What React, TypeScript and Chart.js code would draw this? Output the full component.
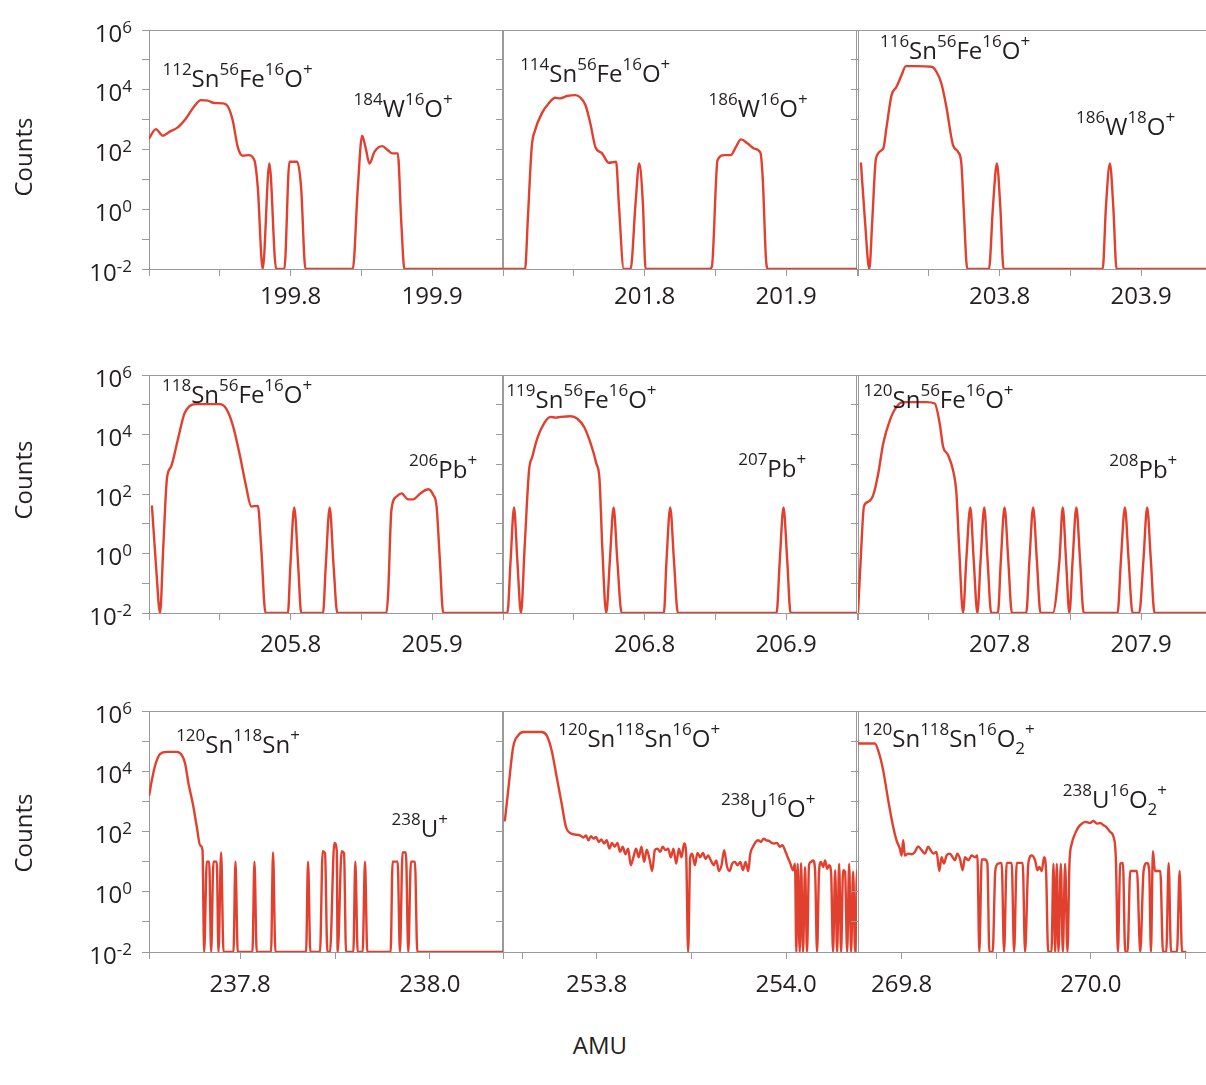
import React, { useEffect, useRef } from 'react';
import { Chart, registerables } from 'chart.js';

Chart.register(...registerables);

const FONT = "'Open Sans', 'DejaVu Sans', sans-serif";
const RED = '#e2402f';
const GREY = '#9a9a9a';
const INK = '#231f20';

// ---------- data: row 1 ----------
const amu11 = [199.7000, 199.7049, 199.7097, 199.7144, 199.7203, 199.7261, 199.7320, 199.7367, 199.7415, 199.7462, 199.7521, 199.7556, 199.7591, 199.7627, 199.7662, 199.7704, 199.7744, 199.7768, 199.7803, 199.7850, 199.7898, 199.7956, 199.7992, 199.8046, 199.8074, 199.8105, 199.8439, 199.8475, 199.8505, 199.8529, 199.8557, 199.8592, 199.8647, 199.8687, 199.8717, 199.8757, 199.8781, 199.8804, 199.9500];
const counts11 = [234, 480, 290, 390, 550, 1100, 2800, 4500, 4300, 3600, 3500, 2800, 950, 120, 62, 65, 44, 5.6, 0.01, 34, 0.01, 0.01, 39, 39, 5.6, 0.01, 0.01, 5.6, 290, 120, 34, 83, 130, 95, 74, 74, 0.43, 0.01, 0.01];

const amu12 = [201.7000, 201.7156, 201.7175, 201.7203, 201.7227, 201.7274, 201.7322, 201.7369, 201.7404, 201.7452, 201.7511, 201.7546, 201.7582, 201.7617, 201.7652, 201.7700, 201.7747, 201.7799, 201.7818, 201.7853, 201.7901, 201.7936, 201.7962, 201.7988, 201.8007, 201.8456, 201.8475, 201.8515, 201.8563, 201.8610, 201.8645, 201.8681, 201.8728, 201.8775, 201.8818, 201.8835, 201.8858, 201.8872, 201.9500];
const counts12 = [0.01, 0.01, 0.43, 123, 447, 1620, 3470, 5370, 5130, 6170, 6600, 5500, 3090, 741, 123, 74, 36, 39, 1.55, 0.01, 0.01, 1.55, 34, 1.55, 0.01, 0.01, 0.012, 44, 65, 65, 123, 219, 158, 107, 78, 9.3, 0.019, 0.01, 0.01];

const amu13 = [203.7021, 203.7049, 203.7080, 203.7101, 203.7127, 203.7178, 203.7202, 203.7237, 203.7272, 203.7308, 203.7338, 203.7413, 203.7519, 203.7554, 203.7589, 203.7624, 203.7671, 203.7707, 203.7730, 203.7746, 203.7772, 203.7925, 203.7953, 203.7981, 203.8005, 203.8028, 203.8728, 203.8751, 203.8779, 203.8803, 203.8826, 203.9500];
const counts13 = [34, 0.43, 0.01, 0.43, 50, 107, 575, 6600, 12600, 31000, 62000, 62000, 59000, 40000, 16200, 2700, 141, 83, 34, 1.2, 0.01, 0.01, 1.2, 34, 1.2, 0.01, 0.01, 1.2, 34, 1.2, 0.01, 0.01];

// ---------- data: row 2 ----------
const amu21 = [205.7021, 205.7050, 205.7078, 205.7101, 205.7127, 205.7156, 205.7203, 205.7250, 205.7285, 205.7333, 205.7498, 205.7545, 205.7592, 205.7639, 205.7686, 205.7722, 205.7769, 205.7792, 205.7823, 205.7981, 205.7998, 205.8026, 205.8054, 205.8075, 205.8229, 205.8248, 205.8276, 205.8304, 205.8330, 205.8677, 205.8689, 205.8712, 205.8748, 205.8783, 205.8830, 205.8866, 205.8917, 205.8972, 205.9007, 205.9031, 205.9054, 205.9078, 205.9500];
const counts21 = [38, 0.36, 0.01, 1.7, 340, 830, 6500, 50000, 89000, 105000, 105000, 74000, 20400, 2290, 178, 38, 40, 1.7, 0.01, 0.01, 0.36, 35, 0.36, 0.01, 0.01, 0.36, 35, 0.36, 0.01, 0.01, 0.047, 29, 81, 105, 66, 66, 105, 145, 93, 38, 0.62, 0.01, 0.01];

const amu22 = [206.7000, 206.7031, 206.7054, 206.7078, 206.7101, 206.7127, 206.7153, 206.7184, 206.7207, 206.7242, 206.7289, 206.7336, 206.7372, 206.7407, 206.7478, 206.7525, 206.7572, 206.7619, 206.7659, 206.7682, 206.7701, 206.7729, 206.7755, 206.7781, 206.7807, 206.7838, 206.8136, 206.8155, 206.8181, 206.8207, 206.8235, 206.8932, 206.8955, 206.8981, 206.9007, 206.9031, 206.9500];
const counts22 = [0.01, 0.01, 0.62, 35, 0.62, 0.01, 1.7, 630, 1780, 7400, 23400, 39000, 37000, 39000, 41000, 34000, 18200, 5000, 1070, 295, 1.7, 0.01, 0.62, 35, 0.62, 0.01, 0.01, 0.62, 35, 0.62, 0.01, 0.01, 0.62, 35, 0.62, 0.01, 0.01];

const amu23 = [207.7000, 207.7019, 207.7042, 207.7073, 207.7108, 207.7143, 207.7178, 207.7225, 207.7272, 207.7319, 207.7484, 207.7542, 207.7577, 207.7601, 207.7636, 207.7671, 207.7695, 207.7714, 207.7742, 207.7765, 207.7793, 207.7817, 207.7843, 207.7866, 207.7892, 207.7915, 207.7941, 207.7988, 207.8009, 207.8035, 207.8061, 207.8087, 207.8188, 207.8211, 207.8237, 207.8263, 207.8289, 207.8376, 207.8423, 207.8446, 207.8469, 207.8493, 207.8516, 207.8542, 207.8568, 207.8594, 207.8833, 207.8857, 207.8885, 207.8911, 207.8939, 207.8986, 207.9016, 207.9042, 207.9068, 207.9094, 207.9500];
const counts23 = [0.01, 0.62, 38, 55, 93, 490, 5000, 30000, 85000, 123000, 123000, 110000, 23400, 3900, 2040, 630, 105, 1.7, 0.01, 0.62, 35, 0.62, 0.01, 0.62, 35, 0.62, 0.01, 0.01, 0.62, 35, 0.62, 0.01, 0.01, 0.62, 35, 0.62, 0.01, 0.01, 0.62, 35, 0.62, 0.01, 0.62, 35, 0.62, 0.01, 0.01, 0.62, 35, 0.62, 0.01, 0.01, 0.62, 35, 0.62, 0.01, 0.01];

// ---------- data: row 3 ----------
const amu31 = [237.7042, 237.7070, 237.7105, 237.7158, 237.7228, 237.7333, 237.7386, 237.7421, 237.7456, 237.7502, 237.7544, 237.7579, 237.7604, 237.7621, 237.7649, 237.7674, 237.7695, 237.7719, 237.7754, 237.7772, 237.7800, 237.7825, 237.7930, 237.7951, 237.7975, 237.8130, 237.8151, 237.8175, 237.8326, 237.8347, 237.8372, 237.8695, 237.8716, 237.8740, 237.8842, 237.8870, 237.8895, 237.8919, 237.8947, 237.8993, 237.9018, 237.9028, 237.9070, 237.9095, 237.9116, 237.9193, 237.9214, 237.9239, 237.9291, 237.9316, 237.9340, 237.9586, 237.9607, 237.9660, 237.9684, 237.9712, 237.9747, 237.9772, 237.9800, 237.9842, 237.9867, 238.0770];
const counts31 = [1580, 5000, 15800, 38000, 44000, 44000, 34000, 17800, 3900, 830, 141, 35, 24, 0.01, 10, 10, 0.01, 10, 10, 0.01, 20, 0.01, 0.01, 10, 0.01, 0.01, 10, 0.01, 0.01, 20, 0.01, 0.01, 10, 0.01, 0.01, 22, 19, 0.01, 0.01, 42, 24, 0.01, 22, 19, 0.01, 0.01, 10, 0.01, 0.01, 10, 0.01, 0.01, 10, 10, 0.01, 20, 20, 0.01, 10, 10, 0.01, 0.01];

const amu32 = [253.7030, 253.7065, 253.7118, 253.7171, 253.7224, 253.7418, 253.7471, 253.7524, 253.7577, 253.7630, 253.7675, 253.7718, 253.7824, 253.7859, 253.7887, 253.7912, 253.7940, 253.7965, 253.7993, 253.8021, 253.8049, 253.8078, 253.8106, 253.8134, 253.8162, 253.8190, 253.8219, 253.8247, 253.8275, 253.8303, 253.8332, 253.8360, 253.8388, 253.8416, 253.8444, 253.8473, 253.8501, 253.8529, 253.8557, 253.8586, 253.8614, 253.8642, 253.8670, 253.8698, 253.8727, 253.8755, 253.8783, 253.8811, 253.8840, 253.8868, 253.8896, 253.8924, 253.8945, 253.8966, 253.8988, 253.9009, 253.9037, 253.9065, 253.9093, 253.9122, 253.9150, 253.9178, 253.9206, 253.9235, 253.9263, 253.9291, 253.9319, 253.9347, 253.9376, 253.9404, 253.9432, 253.9460, 253.9489, 253.9517, 253.9545, 253.9573, 253.9601, 253.9623, 253.9651, 253.9679, 253.9707, 253.9735, 253.9764, 253.9792, 253.9820, 253.9848, 253.9877, 253.9905, 253.9933, 253.9961, 253.9989, 254.0018, 254.0046, 254.0074, 254.0095, 254.0109, 254.0123, 254.0145, 254.0159, 254.0180, 254.0201, 254.0222, 254.0243, 254.0265, 254.0286, 254.0307, 254.0328, 254.0349, 254.0370, 254.0392, 254.0413, 254.0434, 254.0455, 254.0476, 254.0497, 254.0519, 254.0540, 254.0561, 254.0582, 254.0603, 254.0624, 254.0646, 254.0667, 254.0688, 254.0709, 254.0730, 254.0751, 254.0769];
const counts32 = [234, 2340, 65000, 155000, 200000, 200000, 155000, 49000, 6500, 830, 141, 89, 74, 63, 74, 51, 70, 58, 66, 45, 54, 40, 51, 27, 42, 31, 42, 21, 31, 17.5, 27, 7.6, 14, 27, 14, 31, 9.8, 25, 12.5, 4.9, 24, 27, 21, 31, 24, 27, 14, 27, 8.6, 27, 14, 40, 18.5, 0.01, 14, 18.5, 7.6, 19.5, 14, 19.5, 12.5, 16, 11, 7.6, 11, 4.9, 7.6, 24, 7.0, 4.9, 8.6, 9.8, 7.6, 9.8, 5.2, 9.8, 4.9, 18.5, 31, 45, 51, 45, 58, 51, 49, 42, 40, 42, 31, 35, 24, 14, 8.6, 5.2, 8.6, 0.01, 8.6, 0.01, 9.1, 0.01, 6.6, 0.01, 7.6, 9.8, 11, 5.2, 0.01, 4.6, 9.8, 6.6, 11, 5.8, 7.6, 4.6, 0.01, 5.2, 0.01, 8.6, 0.01, 5.2, 4.6, 0.01, 8.6, 0.01, 4.6, 0.01, 5.2, 4.9];

const amu33 = [269.7541, 269.7718, 269.7753, 269.7806, 269.7859, 269.7912, 269.7947, 269.7982, 269.8000, 269.8018, 269.8035, 269.8071, 269.8106, 269.8141, 269.8176, 269.8212, 269.8247, 269.8282, 269.8307, 269.8335, 269.8370, 269.8399, 269.8423, 269.8448, 269.8476, 269.8511, 269.8540, 269.8564, 269.8589, 269.8617, 269.8646, 269.8670, 269.8705, 269.8741, 269.8776, 269.8801, 269.8822, 269.8847, 269.8882, 269.8907, 269.8928, 269.8963, 269.8991, 269.9023, 269.9058, 269.9083, 269.9111, 269.9164, 269.9189, 269.9217, 269.9280, 269.9305, 269.9340, 269.9376, 269.9411, 269.9436, 269.9457, 269.9481, 269.9506, 269.9527, 269.9549, 269.9584, 269.9605, 269.9623, 269.9640, 269.9658, 269.9683, 269.9704, 269.9728, 269.9753, 269.9774, 269.9799, 269.9834, 269.9870, 269.9905, 269.9940, 269.9993, 270.0028, 270.0063, 270.0099, 270.0134, 270.0169, 270.0205, 270.0240, 270.0265, 270.0286, 270.0310, 270.0339, 270.0363, 270.0388, 270.0416, 270.0451, 270.0487, 270.0522, 270.0557, 270.0593, 270.0617, 270.0635, 270.0656, 270.0677, 270.0698, 270.0734, 270.0762, 270.0797, 270.0822, 270.0847, 270.0910, 270.0938, 270.0963, 270.0998];
const counts33 = [83000, 83000, 49000, 10700, 1100, 141, 51, 27, 16, 51, 16, 18.5, 17.5, 21, 32, 24, 18.5, 31, 24, 18.5, 21, 4.9, 14, 8.6, 16, 18.5, 14, 11, 18.5, 12.5, 5.2, 14, 11, 16, 14, 16, 0.01, 11.7, 11.7, 8.6, 0.01, 0.01, 5.2, 8.6, 9.1, 0.01, 9.1, 9.1, 0.01, 9.1, 9.1, 0.01, 9.1, 16, 11, 5.2, 6.6, 4.9, 14, 4.9, 0.01, 0.01, 8.6, 0.01, 8.6, 0.01, 8.6, 0.01, 8.6, 0.01, 8.6, 40, 85, 141, 182, 209, 191, 224, 182, 191, 162, 135, 96, 66, 11, 0.01, 8.6, 9.1, 0.01, 0.01, 4.9, 4.9, 4.9, 0.01, 4.9, 9.1, 4.9, 0.01, 22, 4.9, 4.9, 4.9, 0.01, 0.01, 9.1, 0.01, 0.01, 4.9, 0.01, 0.01];

// ---------- axis ticks ----------
const yTicks = [0.01, 0.1, 1, 10, 100, 1000, 10000, 100000, 1000000];
const yLabelExponents = [-2, 0, 2, 4, 6];

const xTicks11 = [199.70, 199.75, 199.80, 199.85, 199.90, 199.95];
const xTicks12 = [201.70, 201.75, 201.80, 201.85, 201.90, 201.95];
const xTicks13 = [203.70, 203.75, 203.80, 203.85, 203.90, 203.95];
const xTicks21 = [205.70, 205.75, 205.80, 205.85, 205.90, 205.95];
const xTicks22 = [206.70, 206.75, 206.80, 206.85, 206.90, 206.95];
const xTicks23 = [207.70, 207.75, 207.80, 207.85, 207.90, 207.95];
const xTicks31 = [237.704, 237.8, 237.9, 238.0];
const xTicks32 = [253.701, 253.722, 253.8, 253.9, 254.0];
const xTicks33 = [269.8, 269.9, 270.0, 270.1];

const xLabels11 = [199.8, 199.9];
const xLabels12 = [201.8, 201.9];
const xLabels13 = [203.8, 203.9];
const xLabels21 = [205.8, 205.9];
const xLabels22 = [206.8, 206.9];
const xLabels23 = [207.8, 207.9];
const xLabels31 = [237.8, 238.0];
const xLabels32 = [253.8, 254.0];
const xLabels33 = [269.8, 270.0];

// ---------- peak labels ----------
type Part = [string, 'b' | 'sup' | 'sub'];
const SnFeO = (a: string): Part[] => [[a, 'sup'], ['Sn', 'b'], ['56', 'sup'], ['Fe', 'b'], ['16', 'sup'], ['O', 'b'], ['+', 'sup']];
const label11a = SnFeO('112');
const label11b: Part[] = [['184', 'sup'], ['W', 'b'], ['16', 'sup'], ['O', 'b'], ['+', 'sup']];
const label12a = SnFeO('114');
const label12b: Part[] = [['186', 'sup'], ['W', 'b'], ['16', 'sup'], ['O', 'b'], ['+', 'sup']];
const label13a = SnFeO('116');
const label13b: Part[] = [['186', 'sup'], ['W', 'b'], ['18', 'sup'], ['O', 'b'], ['+', 'sup']];
const label21a = SnFeO('118');
const label21b: Part[] = [['206', 'sup'], ['Pb', 'b'], ['+', 'sup']];
const label22a = SnFeO('119');
const label22b: Part[] = [['207', 'sup'], ['Pb', 'b'], ['+', 'sup']];
const label23a = SnFeO('120');
const label23b: Part[] = [['208', 'sup'], ['Pb', 'b'], ['+', 'sup']];
const label31a: Part[] = [['120', 'sup'], ['Sn', 'b'], ['118', 'sup'], ['Sn', 'b'], ['+', 'sup']];
const label31b: Part[] = [['238', 'sup'], ['U', 'b'], ['+', 'sup']];
const label32a: Part[] = [['120', 'sup'], ['Sn', 'b'], ['118', 'sup'], ['Sn', 'b'], ['16', 'sup'], ['O', 'b'], ['+', 'sup']];
const label32b: Part[] = [['238', 'sup'], ['U', 'b'], ['16', 'sup'], ['O', 'b'], ['+', 'sup']];
const label33a: Part[] = [['120', 'sup'], ['Sn', 'b'], ['118', 'sup'], ['Sn', 'b'], ['16', 'sup'], ['O', 'b'], ['2', 'sub'], ['+', 'sup']];
const label33b: Part[] = [['238', 'sup'], ['U', 'b'], ['16', 'sup'], ['O', 'b'], ['2', 'sub'], ['+', 'sup']];

// ---------- layout ----------
const COL_LEFT = [149, 503, 858];
const PANEL_W = 354;
const ROWS = [{ top: 30, h: 239, tickPad: 7 }, { top: 375, h: 238, tickPad: 11 }, { top: 711, h: 241, tickPad: 12 }];
const PAD_T = 22;
const PAD_R = 16;
const XAXIS_H = 56;
const BASE_PX = 24;
const SUP_PX = 17;

type Note = { parts: Part[]; at: [number, number] };
type PanelDef = {
  row: number; col: number; amu: number[]; counts: number[];
  xMin: number; xMax: number; xTicks: number[]; xLabels: number[]; notes: Note[];
};

const PANELS: PanelDef[] = [
  { row: 0, col: 0, amu: amu11, counts: counts11, xMin: 199.7, xMax: 199.95, xTicks: xTicks11, xLabels: xLabels11,
    notes: [{ parts: label11a, at: [199.7095, 12600] }, { parts: label11b, at: [199.8445, 1200] }] },
  { row: 0, col: 1, amu: amu12, counts: counts12, xMin: 201.7, xMax: 201.95, xTicks: xTicks12, xLabels: xLabels12,
    notes: [{ parts: label12a, at: [201.7121, 18600] }, { parts: label12b, at: [201.8452, 1200] }] },
  { row: 0, col: 2, amu: amu13, counts: counts13, xMin: 203.7, xMax: 203.95, xTicks: xTicks13, xLabels: xLabels13,
    notes: [{ parts: label13a, at: [203.7155, 105000] }, { parts: label13b, at: [203.854, 300] }] },
  { row: 1, col: 0, amu: amu21, counts: counts21, xMin: 205.7, xMax: 205.95, xTicks: xTicks21, xLabels: xLabels21,
    notes: [{ parts: label21a, at: [205.7092, 117000] }, { parts: label21b, at: [205.8837, 340] }] },
  { row: 1, col: 1, amu: amu22, counts: counts22, xMin: 206.7, xMax: 206.95, xTicks: xTicks22, xLabels: xLabels22,
    notes: [{ parts: label22a, at: [206.7024, 76000] }, { parts: label22b, at: [206.8661, 370] }] },
  { row: 1, col: 2, amu: amu23, counts: counts23, xMin: 207.7, xMax: 207.95, xTicks: xTicks23, xLabels: xLabels23,
    notes: [{ parts: label23a, at: [207.7038, 76000] }, { parts: label23b, at: [207.8775, 340] }] },
  { row: 2, col: 0, amu: amu31, counts: counts31, xMin: 237.704, xMax: 238.077, xTicks: xTicks31, xLabels: xLabels31,
    notes: [{ parts: label31a, at: [237.7326, 39000] }, { parts: label31b, at: [237.9596, 66] }] },
  { row: 2, col: 1, amu: amu32, counts: counts32, xMin: 253.701, xMax: 254.075, xTicks: xTicks32, xLabels: xLabels32,
    notes: [{ parts: label32a, at: [253.7594, 65000] }, { parts: label32b, at: [253.9312, 310] }] },
  { row: 2, col: 2, amu: amu33, counts: counts33, xMin: 269.754, xMax: 270.128, xTicks: xTicks33, xLabels: xLabels33,
    notes: [{ parts: label33a, at: [269.7594, 65000] }, { parts: label33b, at: [269.9704, 590] }] },
];

function drawRich(ctx: CanvasRenderingContext2D, x: number, y: number, parts: Part[]) {
  let cx = x;
  ctx.textAlign = 'left';
  ctx.textBaseline = 'alphabetic';
  ctx.fillStyle = INK;
  for (const [t, kind] of parts) {
    if (kind === 'b') {
      ctx.font = `${BASE_PX}px ${FONT}`;
      ctx.fillText(t, cx, y);
    } else if (kind === 'sup') {
      ctx.font = `${SUP_PX}px ${FONT}`;
      ctx.fillText(t, cx, y - 12);
    } else {
      ctx.font = `${SUP_PX}px ${FONT}`;
      ctx.fillText(t, cx, y + 7);
    }
    cx += ctx.measureText(t).width;
  }
}

const framePlugin = {
  id: 'panelFrame',
  beforeDatasetsDraw(chart: any) {
    const { ctx, chartArea: a } = chart;
    ctx.save();
    ctx.strokeStyle = GREY;
    ctx.lineWidth = 1;
    const t = Math.round(a.top) + 0.5;
    const r = Math.round(a.right) - 0.5;
    ctx.beginPath();
    ctx.moveTo(a.left, t);
    ctx.lineTo(a.right, t);
    ctx.moveTo(r, a.top);
    ctx.lineTo(r, a.bottom);
    ctx.stroke();
    ctx.restore();
  },
};

const yLabelPlugin = {
  id: 'decadeLabels',
  afterDraw(chart: any) {
    const { ctx, chartArea } = chart;
    const ys = chart.scales.y;
    const right = chartArea.left - 17;
    ctx.save();
    ctx.fillStyle = INK;
    ctx.textAlign = 'left';
    ctx.textBaseline = 'alphabetic';
    for (const e of yLabelExponents) {
      const py = ys.getPixelForValue(Math.pow(10, e));
      const es = String(e);
      ctx.font = `${SUP_PX}px ${FONT}`;
      const ew = ctx.measureText(es).width;
      ctx.font = `${BASE_PX}px ${FONT}`;
      const bw = ctx.measureText('10').width;
      const x0 = right - ew - bw;
      ctx.fillText('10', x0, py + 11.5);
      ctx.font = `${SUP_PX}px ${FONT}`;
      ctx.fillText(es, x0 + bw, py + 2.5);
    }
    ctx.restore();
  },
};

function Panel({ def }: { def: PanelDef }) {
  const ref = useRef<HTMLCanvasElement>(null);
  const colLeft = COL_LEFT[def.col];
  const row = ROWS[def.row];
  const yw = def.col === 0 ? colLeft : 20;
  const left = colLeft - yw;
  const top = row.top - PAD_T;
  const width = yw + PANEL_W + PAD_R;
  const height = PAD_T + row.h + XAXIS_H;

  useEffect(() => {
    if (!ref.current) return;
    const notesPlugin = {
      id: 'peakNotes',
      afterDatasetsDraw(chart: any) {
        const { ctx } = chart;
        ctx.save();
        for (const n of def.notes) {
          const px = chart.scales.x.getPixelForValue(n.at[0]);
          const py = chart.scales.y.getPixelForValue(n.at[1]);
          drawRich(ctx, px, py, n.parts);
        }
        ctx.restore();
      },
    };
    const plugins: any[] = [framePlugin, notesPlugin];
    if (def.col === 0) plugins.push(yLabelPlugin);
    const chart = new Chart(ref.current, {
      type: 'line',
      data: {
        datasets: [{
          data: def.amu.map((x, i) => ({ x, y: def.counts[i] })),
          borderColor: RED,
          borderWidth: 2.4,
          pointRadius: 0,
          pointHoverRadius: 0,
          fill: false,
          cubicInterpolationMode: 'monotone',
          borderJoinStyle: 'round',
          borderCapStyle: 'round',
        }],
      },
      options: {
        animation: false,
        responsive: false,
        maintainAspectRatio: false,
        devicePixelRatio: 1,
        events: [],
        layout: { padding: { top: PAD_T, right: PAD_R, bottom: 0, left: 0 } },
        plugins: { legend: { display: false }, tooltip: { enabled: false }, title: { display: false } },
        scales: {
          x: {
            type: 'linear',
            min: def.xMin,
            max: def.xMax,
            afterBuildTicks: (s: any) => { s.ticks = def.xTicks.map((v) => ({ value: v })); },
            afterFit: (s: any) => { s.height = XAXIS_H; s.paddingLeft = 0; s.paddingRight = 0; },
            grid: { drawOnChartArea: false, drawTicks: true, tickLength: 7, color: GREY, lineWidth: 1 },
            border: { display: true, color: GREY, width: 1 },
            ticks: {
              autoSkip: false, maxRotation: 0, minRotation: 0, padding: row.tickPad, color: INK,
              font: { family: FONT, size: BASE_PX },
              callback: (v: any) => def.xLabels.some((l) => Math.abs(l - Number(v)) < 1e-6) ? Number(v).toFixed(1) : '',
            },
          },
          y: {
            type: 'logarithmic',
            min: 0.01,
            max: 1000000,
            afterBuildTicks: (s: any) => { s.ticks = yTicks.map((v) => ({ value: v })); },
            afterFit: (s: any) => { s.width = yw; },
            grid: { drawOnChartArea: false, drawTicks: true, tickLength: 7, color: GREY, lineWidth: 1 },
            border: { display: true, color: GREY, width: 1 },
            ticks: { display: false },
          },
        },
      } as any,
      plugins,
    } as any);
    return () => chart.destroy();
  }, []);

  return (
    <canvas
      ref={ref}
      width={width}
      height={height}
      style={{ position: 'absolute', left, top, width, height }}
    />
  );
}

const COUNTS_Y = [157, 480, 833];

export default function App() {
  return (
    <div style={{ position: 'fixed', left: 0, top: 0, width: 1206, height: 1085, overflow: 'hidden', background: '#ffffff', fontFamily: FONT, color: INK }}>
      {PANELS.map((p, i) => <Panel key={i} def={p} />)}
      {COUNTS_Y.map((cy, i) => (
        <div key={'c' + i} style={{ position: 'absolute', left: 23 - 60, top: cy - 16, width: 120, height: 32, lineHeight: '32px', fontSize: 24, textAlign: 'center', transform: 'rotate(-90deg)', whiteSpace: 'nowrap' }}>Counts</div>
      ))}
      <div style={{ position: 'absolute', left: 540, top: 1029, width: 120, height: 32, lineHeight: '32px', fontSize: 24, textAlign: 'center' }}>AMU</div>
    </div>
  );
}
